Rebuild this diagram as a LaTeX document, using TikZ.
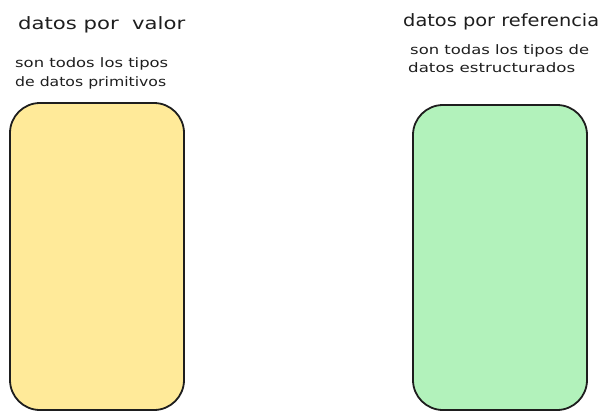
\documentclass[tikz,border=0pt]{standalone}
\usepackage{fontspec}
\usepackage{graphicx}
\setmainfont{DejaVu Sans}
\definecolor{ink}{HTML}{1E1E1E}
\definecolor{yel}{HTML}{FFEA99}
\definecolor{grn}{HTML}{B2F2BB}
\newcommand{\fitw}[2]{\resizebox{#1}{\height}{#2}}
\begin{document}
\begin{tikzpicture}[x=1pt,y=-1pt,
  box/.style={draw=ink,line width=1.8pt,rounded corners=30pt},
  title/.style={anchor=base west,inner sep=0pt,text=ink,font=\fontsize{17}{20}\selectfont},
  sub/.style={anchor=base west,inner sep=0pt,text=ink,font=\fontsize{13}{15}\selectfont}]
\useasboundingbox (0,0) rectangle (616,420);
\filldraw[box,fill=yel] (10,103) rectangle (184,410);
\filldraw[box,fill=grn] (413,105) rectangle (587,410);
\node[title] (t1) at (18,30) {\fitw{167pt}{datos por\ \ valor}};
\node[title] (t2) at (403,27) {\fitw{196pt}{datos por referencia}};
\node[sub] (s1) at (15,68) {\fitw{153pt}{son todos los tipos}};
\node[sub] (s2) at (15,87) {\fitw{151pt}{de datos primitivos}};
\node[sub] (s3) at (410,55) {\fitw{179pt}{son todas los tipos de}};
\node[sub] (s4) at (408,73) {\fitw{167pt}{datos estructurados}};
\end{tikzpicture}
\end{document}
